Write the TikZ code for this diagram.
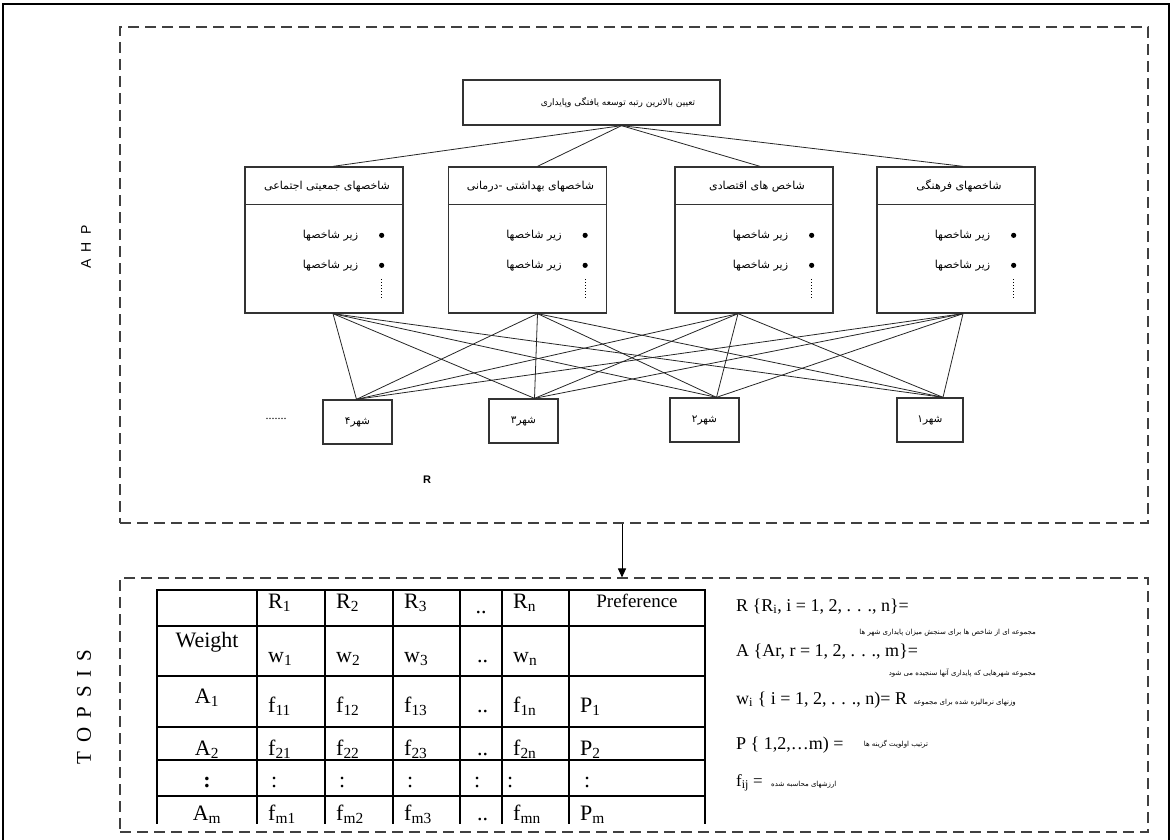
\documentclass[tikz,border=0pt]{standalone}
\usepackage{fontspec}
\setmainfont{Liberation Serif}
\setsansfont{Liberation Sans}
\newfontfamily\persianfont[Script=Arabic]{DejaVu Sans}
\TeXXeTstate=1
\newcommand{\fatext}[1]{{\persianfont\beginR #1\endR}}
\usetikzlibrary{arrows.meta}

\begin{document}
\begin{tikzpicture}[x=1pt,y=-1pt,
    box/.style={draw=black!80, line width=1.3pt, inner sep=0pt},
    panel/.style={draw=black!75, line width=1.1pt, dash pattern=on 11pt off 6pt, inner sep=0pt},
    link/.style={draw=black!85, line width=0.8pt},
    grid/.style={line width=2pt},
    fa/.style={font=\persianfont\fontsize{11}{13}\selectfont},
    fasmall/.style={font=\persianfont\fontsize{7}{9}\selectfont, inner sep=0pt},
    cell/.style={anchor=base west, inner sep=0pt, font=\fontsize{22}{24}\selectfont},
    ccell/.style={anchor=base, inner sep=0pt, font=\fontsize{22}{24}\selectfont},
    formula/.style={anchor=base west, inner sep=0pt, font=\fontsize{18}{20}\selectfont}]

    \useasboundingbox (0,0) rectangle (1173,840);
    \draw[line width=2.5pt] (3,842) -- (3,4) -- (1169,4) -- (1169,842);

    % the two stages
    \node[panel, minimum width=1028pt, minimum height=496pt] (ahp) at (634,275) {};
    \node[panel, minimum width=1028pt, minimum height=254pt] (topsis) at (634,705) {};
    \draw[-{Triangle[length=9pt,width=8pt]}, line width=1pt] ([xshift=-12pt]ahp.south) -- ([xshift=-12pt]topsis.north);

    \node[rotate=90, font=\sffamily\fontsize{14}{14}\selectfont] (ahplabel) at (86,247) {A\hspace{7pt}H\hspace{7pt}P};
    \node[rotate=90, font=\fontsize{21}{21}\selectfont] (topsislabel) at (84,707)
        {T\hspace{9pt}O\hspace{9pt}P\hspace{9pt}S\hspace{9pt}I\hspace{9pt}S};

    % goal
    \node[box, minimum width=257pt, minimum height=45pt] (goal) at (591.5,102.5) {};
    \node[fa, font=\persianfont\fontsize{9}{11}\selectfont, anchor=east] (goaltext) at ([xshift=-22pt]goal.east)
        {\fatext{تعیین بالاترین رتبه توسعه یافتگی وپایداری}};

    % indicator groups
    \foreach \n/\cx/\ttl in {1/324/{شاخصهای جمعیتی اجتماعی},2/527.5/{شاخصهای بهداشتی -درمانی},
                             3/754/{شاخص های اقتصادی},4/956/{شاخصهای فرهنگی}} {
        \node[box, minimum width=158pt, minimum height=146pt] (ind\n) at (\cx,240) {};
        \draw[box] ([yshift=-38pt]ind\n.north west) -- ([yshift=-38pt]ind\n.north east);
        \node[fa] (ind\n-title) at ([xshift=3pt,yshift=-20pt]ind\n.north) {\fatext{\ttl}};
        \node[fa, anchor=east] (ind\n-a) at ([xshift=-42pt,yshift=-69pt]ind\n.north east) {\fatext{زیر شاخصها}};
        \node[fa, anchor=east] (ind\n-b) at ([xshift=-42pt,yshift=-99pt]ind\n.north east) {\fatext{زیر شاخصها}};
        \fill ([xshift=-22pt,yshift=-69pt]ind\n.north east) circle (2.6pt);
        \fill ([xshift=-22pt,yshift=-99pt]ind\n.north east) circle (2.6pt);
        \draw[line width=1pt, dash pattern=on 1pt off 2pt] ([xshift=-22pt,yshift=-113pt]ind\n.north east) -- ++(0,20);
    }

    % cities
    \tikzset{city/.style={box, font=\persianfont\fontsize{10.5}{12}\selectfont, minimum height=44pt}}
    \node[city, minimum width=69pt] (city4) at (357.5,422) {\fatext{شهر۴}};
    \node[city, minimum width=69pt] (city3) at (523.5,421) {\fatext{شهر۳}};
    \node[city, minimum width=69pt] (city2) at (704.5,420) {\fatext{شهر۲}};
    \node[city, minimum width=66pt] (city1) at (930,420) {\fatext{شهر۱}};
    \node[font=\fontsize{12}{12}\selectfont] (moredots) at (276,419) {.......};
    \node[font=\sffamily\bfseries\fontsize{11}{11}\selectfont] (rset) at (427,480) {R};

    \foreach \a/\sa in {1/9,2/10,3/6,4/7}
        \draw[link] ([xshift=30pt]goal.south) -- ([xshift=\sa pt]ind\a.north);
    \foreach \a/\sa in {1/9,2/10,3/-16,4/7}
        \foreach \b/\sb in {4/-1,3/11,2/12,1/13}
            \draw[link] ([xshift=\sa pt]ind\a.south) -- ([xshift=\sb pt]city\b.north);

    % decision matrix
    \begin{scope}
        \clip (150,585) rectangle (712,823);
        \foreach \y in {590,626,676,727,760,796} \draw[grid] (156,\y) -- (706,\y);
        \foreach \x in {157,257,325,393,460,502,569,705} \draw[grid] (\x,589) -- (\x,830);

        \foreach \x/\t [count=\c] in {268/R\textsubscript{1},336/R\textsubscript{2},404/R\textsubscript{3},513/R\textsubscript{n}}
            \node[cell] (hd\c) at (\x,608) {\t};
        \node[ccell] (hddots) at (481,613) {..};
        \node[ccell, font=\fontsize{19}{20}\selectfont] (hdpref) at (637,607) {Preference};

        \node[ccell] (wlab) at (207,647) {Weight};
        \foreach \x/\t [count=\c] in {268/w\textsubscript{1},336/w\textsubscript{2},404/w\textsubscript{3},477/..,513/w\textsubscript{n}}
            \node[cell] (w\c) at (\x,662) {\t};

        \node[ccell] (alab1) at (207,703) {A\textsubscript{1}};
        \foreach \x/\t [count=\c] in {268/f\textsubscript{11},336/f\textsubscript{12},404/f\textsubscript{13},477/..,513/f\textsubscript{1n},580/P\textsubscript{1}}
            \node[cell] (fa\c) at (\x,712) {\t};

        \node[ccell] (alab2) at (207,755) {A\textsubscript{2}};
        \foreach \x/\t [count=\c] in {268/f\textsubscript{21},336/f\textsubscript{22},404/f\textsubscript{23},477/..,513/f\textsubscript{2n},580/P\textsubscript{2}}
            \node[cell] (fb\c) at (\x,755) {\t};

        \node[ccell] (alab3) at (207,787) {\textbf{:}};
        \foreach \x [count=\c] in {271,339,407,474,507,584}
            \node[cell] (fc\c) at (\x,787) {:};

        \node[ccell] (alabm) at (207,820) {A\textsubscript{m}};
        \foreach \x/\t [count=\c] in {268/f\textsubscript{m1},336/f\textsubscript{m2},404/f\textsubscript{m3},477/..,513/f\textsubscript{mn},580/P\textsubscript{m}}
            \node[cell] (fm\c) at (\x,820) {\t};
    \end{scope}

    % definitions
    \node[formula] (setR) at (736,611) {R \{R\textsubscript{i}, i = 1, 2, . . ., n\}=};
    \node[fasmall, anchor=base east] (setRtext) at (1036,634) {\fatext{مجموعه ای از شاخص ها برای سنجش میزان پایداری شهر ها}};
    \node[formula] (setA) at (736,656) {A \{Ar, r = 1, 2, . . ., m\}=};
    \node[fasmall, anchor=base east] (setAtext) at (1036,675) {\fatext{مجموعه شهرهایی که پایداری آنها سنجیده می شود}};
    \node[formula] (weights) at (736,704) {w\textsubscript{i} \{ i = 1, 2, . . ., n)= R};
    \node[fasmall, anchor=base west] (weightstext) at ([xshift=6pt]weights.base east) {\fatext{وزنهای نرمالیزه شده برای مجموعه}};
    \node[formula] (prio) at (736,749) {P \{ 1,2,…m) =};
    \node[fasmall, anchor=base west] (priotext) at ([xshift=20pt,yshift=3pt]prio.base east) {\fatext{ترتیب اولویت گزینه ها}};
    \node[formula, font=\fontsize{17}{19}\selectfont] (vals) at (736,786) {f\textsubscript{ij} =};
    \node[fasmall, anchor=base west] (valstext) at ([xshift=8pt]vals.base east) {\fatext{ارزشهای محاسبه شده}};

\end{tikzpicture}
\end{document}
